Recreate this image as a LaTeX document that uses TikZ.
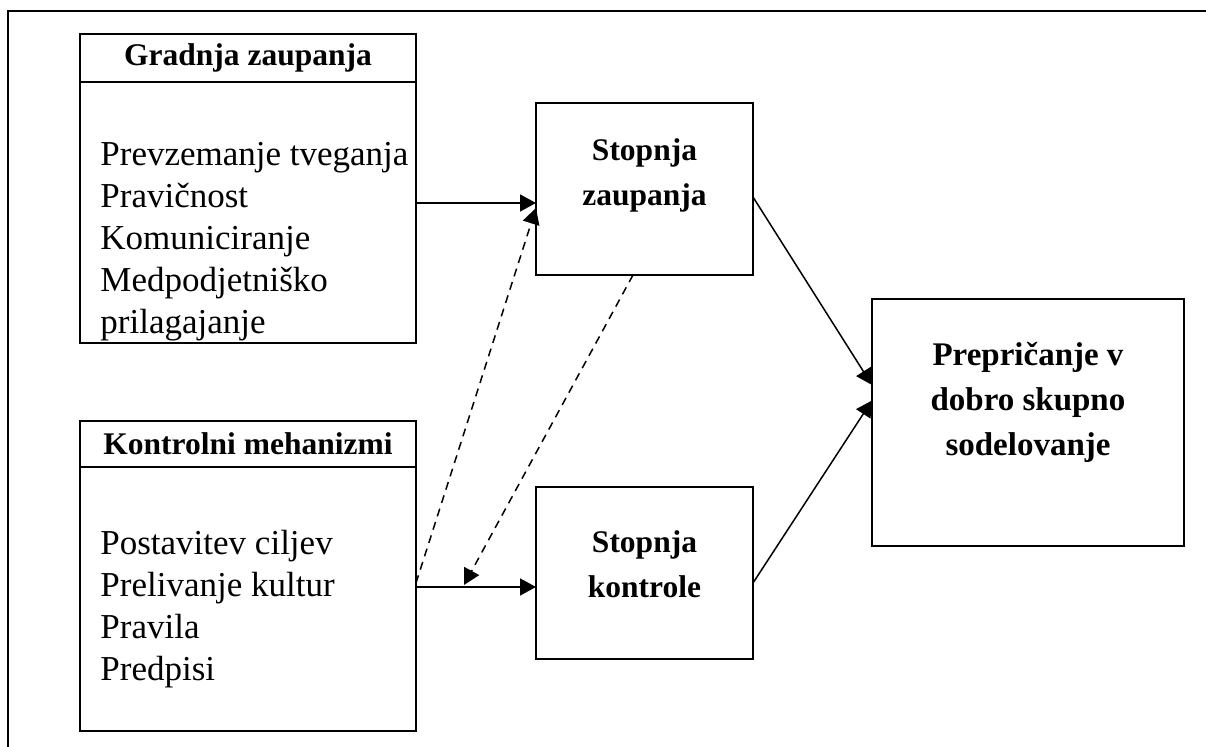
\documentclass[tikz,border=0pt]{standalone}
\usepackage{fontspec}
\setmainfont{Liberation Serif}
\usetikzlibrary{positioning,arrows.meta,calc}

\newcommand{\headfont}{\fontsize{15.75}{22.5}\selectfont\bfseries}
\newcommand{\bodyfont}{\fontsize{17.5}{21}\selectfont}

\tikzset{
    box/.style={draw, line width=1pt, inner sep=0pt, outer sep=0pt},
    arrow/.style={->, line width=0.75pt},
    dasharrow/.style={->, line width=0.75pt, dash pattern=on 4pt off 3pt}
}

\begin{document}
\begin{tikzpicture}[x=0.5pt, y=-0.5pt, >={Triangle[length=8pt,width=8.5pt]}]
    \useasboundingbox (0,0) rectangle (1206,747);

    % frame (cut off at the right and bottom)
    \draw[line width=1.3pt] (8,747) -- (8,11) -- (1206,11);

    % Gradnja zaupanja
    \node[box, minimum width=168pt, minimum height=24pt, font=\headfont] (gradnja) at (248,58) {Gradnja zaupanja};
    \node[box, minimum width=168pt, minimum height=130.5pt, below=0pt of gradnja] (gradnjabody) {};
    \node[anchor=west, align=left, inner sep=0pt, font=\bodyfont] (gradnjatext) at (100,242) {Prevzemanje tveganja\\Pravičnost\\Komuniciranje\\Medpodjetniško\\prilagajanje};

    % Kontrolni mehanizmi
    \node[box, minimum width=168pt, minimum height=23pt, font=\headfont] (kontrolni) at (248,444) {Kontrolni mehanizmi};
    \node[box, minimum width=168pt, minimum height=132pt, below=0pt of kontrolni] (kontrolnibody) {};
    \node[anchor=west, align=left, inner sep=0pt, font=\bodyfont] (kontrolnitext) at (100,609) {Postavitev ciljev\\Prelivanje kultur\\Pravila\\Predpisi};

    % Stopnja zaupanja / kontrole
    \node[box, minimum width=108.5pt, minimum height=86pt] (zaupanje) at (644.5,189) {};
    \node[align=center, font=\headfont] (zaupanjetext) at (644.5,175) {Stopnja\\zaupanja};
    \node[box, minimum width=108.5pt, minimum height=86pt] (kontrola) at (644.5,573) {};
    \node[align=center, font=\headfont] (kontrolatext) at (644.5,564) {Stopnja\\kontrole};

    % Prepricanje
    \node[box, minimum width=156pt, minimum height=123.5pt] (prepricanje) at (1028,422.5) {};
    \node[align=center, font=\headfont\fontsize{16.5}{22.5}\selectfont] (prepricanjetext) at (1028,402) {Prepričanje v\\dobro skupno\\sodelovanje};

    % connectors
    \coordinate (zin) at ([yshift=-7pt]zaupanje.west);
    \coordinate (kin) at ([yshift=-7pt]kontrola.west);
    \coordinate (kmid) at ($(kin -| kontrolnibody.east)!0.4!(kin)$);
    \draw[arrow] (zin -| gradnjabody.east) -- (zin);
    \draw[arrow] (kin -| kontrolnibody.east) -- (kin);
    \draw[dasharrow] ([yshift=2pt]kin -| kontrolnibody.east) -- ([yshift=-2.5pt]zin);
    \draw[dasharrow] ([xshift=-5.75pt]zaupanje.south) -- ([yshift=1pt]kmid);
    \draw[arrow] ([yshift=-4pt]zaupanje.east) -- ([yshift=18.75pt]prepricanje.west);
    \draw[arrow] ([yshift=-5pt]kontrola.east) -- ([yshift=11pt]prepricanje.west);
\end{tikzpicture}
\end{document}
